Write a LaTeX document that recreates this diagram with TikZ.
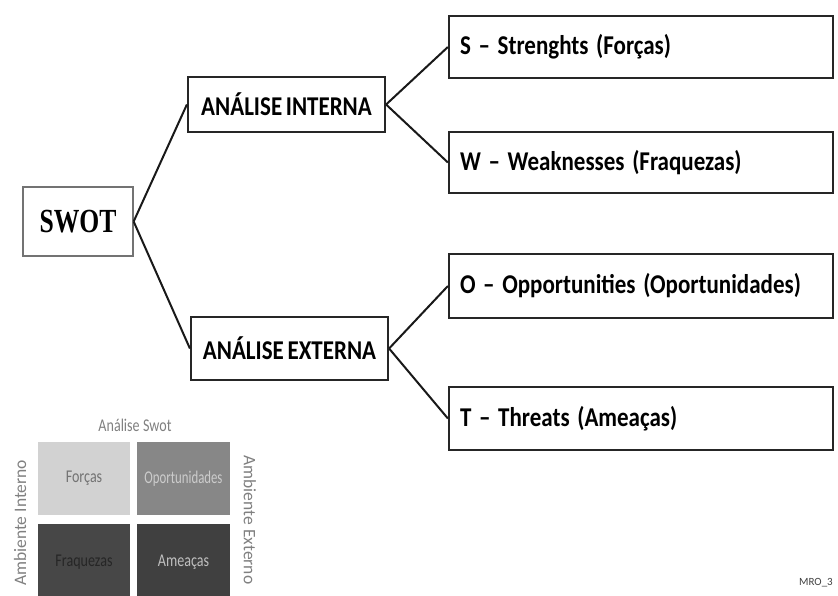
\documentclass[tikz,border=0pt]{standalone}
\usepackage{graphicx}
\usepackage{fontspec}
\setmainfont{Carlito}[WordSpace=0.7]
\newfontfamily\timesf{Liberation Serif}
\newcommand{\vstr}[1]{\scalebox{1}[1.18]{#1}}
\newcommand{\cstr}[1]{\scalebox{0.88}[1.12]{#1}}
\newcommand{\gap}{\hspace{0.24em}}
\begin{document}
\begin{tikzpicture}[x=1pt,y=-1pt,
  box/.style={draw=black!85,line width=2.2pt,fill=white,inner sep=0pt,font=\bfseries\fontsize{23}{27}\selectfont},
  leftbox/.style={box,align=left,inner xsep=11pt,text width=362pt,minimum height=62pt},
  conn/.style={line width=2pt,black!90},
  cell/.style={draw=none,inner sep=0pt,font=\fontsize{16}{18}\selectfont}]
\useasboundingbox (0,0) rectangle (838,596);
% main nodes
\node[box,draw=black!55,line width=1.3pt,minimum width=110pt,minimum height=69pt,font=\timesf\bfseries\fontsize{27}{32}\selectfont] (swot) at (78,221.5) {\scalebox{0.95}[1.25]{SWOT}};
\node[box,minimum width=197pt,minimum height=55pt] (int) at (286.5,104.5) {\vstr{ANÁLISE INTERNA}};
\node[box,minimum width=197pt,minimum height=63pt] (ext) at (289.5,348.5) {\vstr{ANÁLISE EXTERNA}};
\node[leftbox] (s) at (641,47) {\vstr{S – Strenghts (Forças)}};
\node[leftbox,minimum height=61pt] (w) at (641,162.5) {\vstr{W – Weaknesses (Fraquezas)}};
\node[leftbox,minimum height=64pt] (o) at (641,286) {\vstr{O – Opportunities (Oportunidades)}};
\node[leftbox,minimum height=63pt] (t) at (641,418.5) {\vstr{T – Threats (Ameaças)}};
% connectors
\draw[conn] (swot.east) -- (int.west);
\draw[conn] (swot.east) -- (ext.west);
\draw[conn] (int.east) -- (s.west);
\draw[conn] (int.east) -- (w.west);
\draw[conn] (ext.east) -- (o.west);
\draw[conn] (ext.east) -- (t.west);
% small SWOT matrix
\fill[gray!35] (38,442) rectangle (130,515);
\fill[black!47] (137,442) rectangle (230,515);
\fill[black!72] (38,524) rectangle (130,600);
\fill[black!75] (137,524) rectangle (230,600);
\node[cell,text=black!50] (title) at (135,425) {\cstr{Análise\gap Swot}};
\node[cell,text=black!55] (fo) at (84,478.5) {\cstr{Forças}};
\node[cell,text=black!20] (op) at (183.5,478.5) {\scalebox{0.8}[1.12]{Oportunidades}};
\node[cell,text=black!85] (fr) at (84,562) {\cstr{Fraquezas}};
\node[cell,text=black!25] (am) at (183.5,562) {\cstr{Ameaças}};
\node[cell,text=black!50,rotate=90,font=\fontsize{17.5}{20}\selectfont] (ai) at (20,523) {Ambiente\gap Interno};
\node[cell,text=black!50,rotate=-90,font=\fontsize{17.5}{20}\selectfont] (ae) at (250,520) {Ambiente\gap Externo};
\node[cell,text=black!75,anchor=west,font=\fontsize{11}{13}\selectfont] (mro) at (799,583) {MRO\_3};
\end{tikzpicture}
\end{document}
